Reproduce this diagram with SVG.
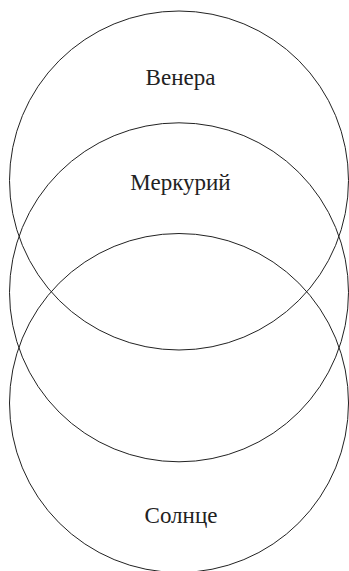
<svg xmlns="http://www.w3.org/2000/svg" width="349" height="571" viewBox="0 0 349 571">
<style>
circle{fill:none;stroke:#222;stroke-width:1}
text{font-family:"Liberation Serif","Times New Roman",serif;font-size:23px;fill:#222;text-anchor:middle}
</style>
<rect width="349" height="571" fill="#fff"/>
<g id="venera"><circle cx="179" cy="180.5" r="169.5"/><text x="180.5" y="85">Венера</text></g>
<g id="merkury"><circle cx="179" cy="292.3" r="169.5"/><text x="180.5" y="190">Меркурий</text></g>
<g id="sun"><circle cx="179" cy="403" r="169.5"/><text x="181" y="522.5">Солнце</text></g>
<g id="connectors"/>
</svg>
